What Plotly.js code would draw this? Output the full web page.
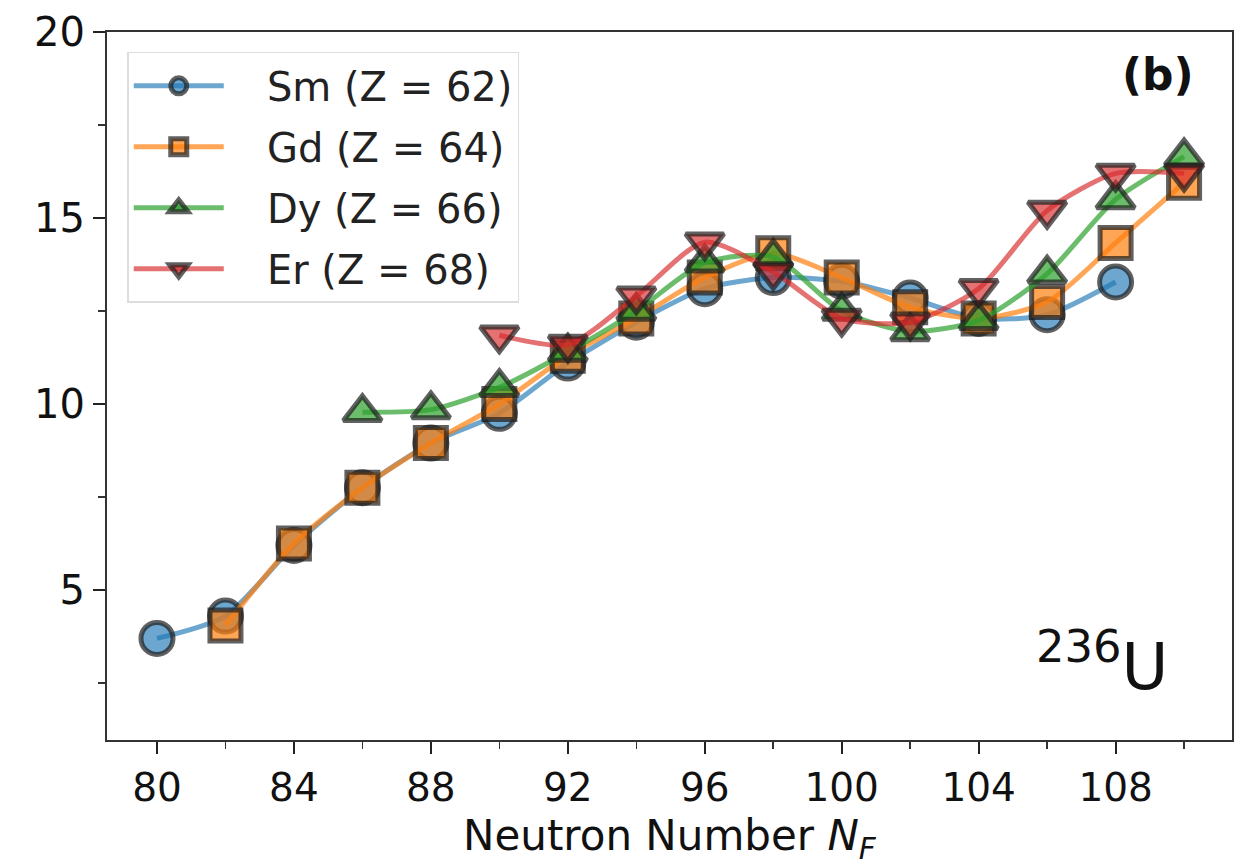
<!DOCTYPE html>
<html><head><meta charset="utf-8">
<script src="https://cdn.plot.ly/plotly-3.0.1.min.js"></script>
<style>html,body{margin:0;padding:0;background:#fff;}#plot{width:1239px;height:864px;}</style>
</head><body><div id="plot"></div>
<script>
const smN = [80, 82, 84, 86, 88, 90, 92, 94, 96, 98, 100, 102, 104, 106, 108];
const smY = [3.7, 4.3, 6.2, 7.75, 8.95, 9.75, 11.1, 12.2, 13.1, 13.4, 13.3, 12.85, 12.3, 12.4, 13.28];
const gdN = [82, 84, 86, 88, 90, 92, 94, 96, 98, 100, 102, 104, 106, 108, 110];
const gdY = [4.05, 6.25, 7.75, 8.95, 10.0, 11.3, 12.3, 13.4, 14.05, 13.4, 12.6, 12.3, 12.74, 14.33, 15.95];
const dyN = [86, 88, 90, 92, 94, 96, 98, 100, 102, 104, 106, 108, 110];
const dyY = [9.78, 9.85, 10.45, 11.4, 12.5, 13.8, 13.95, 12.5, 11.95, 12.25, 13.5, 15.5, 16.65];
const erN = [90, 92, 94, 96, 98, 100, 102, 104, 106, 108, 110];
const erY = [11.85, 11.6, 12.9, 14.35, 13.55, 12.3, 12.2, 13.1, 15.2, 16.2, 16.2];
const names = ['Sm (Z = 62)', 'Gd (Z = 64)', 'Dy (Z = 66)', 'Er (Z = 68)'];
const xTicks = [80, 84, 88, 92, 96, 100, 104, 108];

const cols = ['rgba(31,119,180,0.65)', 'rgba(255,127,14,0.7)', 'rgba(44,160,44,0.7)', 'rgba(214,39,40,0.65)'];
const symbols = ['circle', 'square', 'triangle-up', 'triangle-down'];
const sizes = [32, 31, 33, 33];
const data = [[smN, smY], [gdN, gdY], [dyN, dyY], [erN, erY]].map((d, i) => ({
  x: d[0], y: d[1], name: '\u00a0\u00a0\u00a0' + names[i], legendgroup: 'g' + i,
  type: 'scatter', mode: 'lines+markers',
  line: {color: cols[i], width: 5, shape: 'spline', smoothing: 0.7},
  marker: {symbol: symbols[i], size: sizes[i], color: cols[i],
           line: {color: 'rgba(30,30,30,0.7)', width: 5}}
}));

const layout = {
  width: 1239, height: 864,
  margin: {l: 107, r: 7, t: 32, b: 124},
  paper_bgcolor: '#fff', plot_bgcolor: '#fff',
  font: {family: 'DejaVu Sans', size: 40, color: '#111'},
  showlegend: true,
  legend: {x: 0.018, y: 0.972, xanchor: 'left', yanchor: 'top',
           bgcolor: 'rgba(255,255,255,0.9)', bordercolor: '#ddd', borderwidth: 1.5,
           font: {size: 40, family: 'DejaVu Sans', color: '#222'}, tracegroupgap: 6, itemwidth: 90},
  xaxis: {range: [78.54, 111.4], tickvals: xTicks, ticktext: xTicks.map(String),
          ticks: 'outside', ticklen: 12, tickwidth: 2, tickcolor: '#222',
          showline: true, linecolor: '#333', linewidth: 2, mirror: true,
          showgrid: false, zeroline: false,
          tickfont: {size: 39},
          minor: {dtick: 2, tick0: 80, ticks: 'outside', ticklen: 7, tickwidth: 1.5, tickcolor: '#333', showgrid: false}},
  yaxis: {range: [0.97, 20], tickvals: [5, 10, 15, 20],
          ticks: 'outside', ticklen: 12, tickwidth: 2, tickcolor: '#222',
          showline: true, linecolor: '#333', linewidth: 2, mirror: true,
          showgrid: false, zeroline: false,
          tickfont: {size: 40},
          minor: {dtick: 2.5, tick0: 0, ticks: 'outside', ticklen: 7, tickwidth: 1.5, tickcolor: '#333', showgrid: false}},
  annotations: [
    {xref: 'paper', yref: 'paper', x: 0.5, y: -0.139, xanchor: 'center', yanchor: 'middle',
     text: 'Neutron Number <i>N</i><sub><i>F</i></sub>', showarrow: false, font: {size: 42, color: '#111'}},
    {xref: 'paper', yref: 'paper', x: 0.968, y: 0.94, xanchor: 'right', yanchor: 'middle',
     text: '<b>(b)</b>', showarrow: false, font: {size: 44, color: '#111'}},
    {xref: 'paper', yref: 'paper', x: 0.945, y: 0.11, xanchor: 'right', yanchor: 'middle',
     text: '<sup>236</sup>U', showarrow: false, font: {size: 64, color: '#111'}}
  ]
};
Plotly.newPlot('plot', data, layout, {displayModeBar: false, staticPlot: true});
</script></body></html>
